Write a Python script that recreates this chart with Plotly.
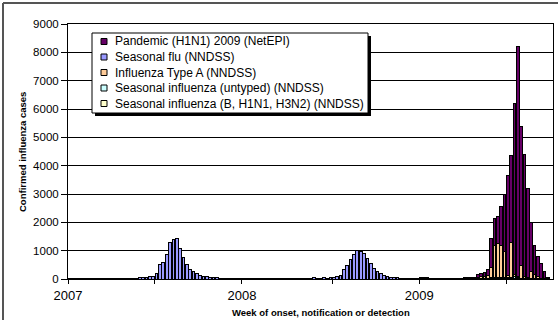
import plotly.graph_objects as go

# ---------------- data (weekly counts) ----------------
# week index 0..144 : 2007 (52 weeks), 2008 (53 weeks), 2009 weeks 1-40
seasonal_flu_2007 = [8, 10, 6, 9, 7, 10, 8, 12, 9, 10,
                     11, 9, 12, 14, 10, 13, 15, 12, 18, 20,
                     30, 40, 50, 60, 80, 100, 200, 520, 590, 850,
                     1280, 1380, 1420, 1080, 770, 500, 340, 260, 200, 140,
                     100, 80, 70, 60, 40, 30, 20, 15, 10, 8, 6, 5]
seasonal_flu_2008 = [5, 6, 4, 8, 6, 5, 7, 9, 10,
                     25, 20, 30, 15, 28, 35, 20, 30, 25, 35,
                     30, 25, 40, 30, 35, 40, 30, 45,
                     60, 90, 140, 320, 490, 690, 850, 990, 980, 910, 730,
                     550, 380, 260, 200, 140, 100, 70, 50, 40, 30, 30, 20, 15, 12, 10]
seasonal_flu_2009 = [0] * 40

pandemic_2009 = [0, 0, 0, 0, 0, 0, 0, 0, 0, 0, 0, 0, 0, 0, 0,
                 0, 5, 80, 100, 115, 185, 1030, 935, 940, 1350, 2035, 3525, 3070,
                 6050, 8100, 4920, 4320, 3146, 1740, 1042, 695, 497, 249, 60, 0]
type_a_2009 = [30, 35, 25, 20, 10, 8, 12, 10, 8, 10, 15, 12, 20, 25, 30,
               40, 40, 50, 60, 80, 100, 350, 1130, 1200, 1150, 920, 50, 1230,
               60, 60, 450, 60, 40, 250, 150, 80, 30, 10, 5, 0]
untyped_2009 = [5, 8, 6, 5, 4, 5, 3, 4, 5, 4, 5, 6, 5, 8, 10,
                5, 8, 10, 12, 15, 20, 30, 30, 35, 30, 25, 40, 30,
                60, 20, 15, 10, 8, 6, 5, 3, 2, 1, 0, 0]
typed_2009 = [4, 6, 5, 3, 4, 3, 2, 3, 4, 3, 4, 5, 4, 5, 6,
              5, 7, 10, 8, 10, 15, 20, 25, 25, 20, 20, 25, 20,
              30, 20, 15, 10, 6, 4, 3, 2, 1, 0, 0, 0]

zeros_2007 = [0] * 52
zeros_2008 = [0] * 53

series_names = ["Pandemic (H1N1) 2009 (NetEPI)",
                "Seasonal flu (NNDSS)",
                "Influenza Type A (NNDSS)",
                "Seasonal influenza (untyped) (NNDSS)",
                "Seasonal influenza (B, H1N1, H3N2) (NNDSS)"]
series_colors = ["#660066", "#9999FF", "#FFCC99", "#CCFFFF", "#FFFFCC"]

pandemic = zeros_2007 + zeros_2008 + pandemic_2009
seasonal_flu = seasonal_flu_2007 + seasonal_flu_2008 + seasonal_flu_2009
type_a = zeros_2007 + zeros_2008 + type_a_2009
untyped = zeros_2007 + zeros_2008 + untyped_2009
typed = zeros_2007 + zeros_2008 + typed_2009

weeks = [i + 0.5 for i in range(len(pandemic))]

tick_positions = [0, 26, 52, 79, 105, 131]
tick_labels = ["2007", "", "2008", "", "2009", ""]

# ---------------- figure ----------------
FONT = "Arial, 'Liberation Sans', sans-serif"
fig = go.Figure()
series_values = [pandemic, seasonal_flu, type_a, untyped, typed]
# add bottom-of-stack first
for k in [4, 3, 2, 1, 0]:
    fig.add_trace(go.Bar(
        x=weeks, y=series_values[k], name=series_names[k],
        marker=dict(color=series_colors[k], line=dict(color="black", width=1)),
        width=0.8, showlegend=False,
    ))

L, R, T, B = 68, 553, 24, 279
W, H = R - L, B - T

def px(x):
    return (x - L) / W

def py(y):
    return (B - y) / H

# legend box (drawn as shapes + text, Excel style with drop shadow)
LX0, LX1, LY0, LY1 = 92, 368, 33, 113
row_y = [41.5, 57, 72.5, 88, 103.5]
shapes = [
    dict(type="rect", xref="paper", yref="paper",
         x0=px(LX0 + 3), x1=px(LX1 + 3), y0=py(LY1 + 3), y1=py(LY0 + 3),
         fillcolor="black", line=dict(width=0), layer="above"),
    dict(type="rect", xref="paper", yref="paper",
         x0=px(LX0), x1=px(LX1), y0=py(LY1), y1=py(LY0),
         fillcolor="white", line=dict(color="black", width=1), layer="above"),
]
annotations = []
for k, name in enumerate(series_names):
    yc = row_y[k]
    shapes.append(dict(type="rect", xref="paper", yref="paper",
                       x0=px(101), x1=px(107), y0=py(yc + 3), y1=py(yc - 3),
                       fillcolor=series_colors[k], line=dict(color="black", width=1),
                       layer="above"))
    annotations.append(dict(text=name, xref="paper", yref="paper",
                            x=px(113), y=py(yc), xanchor="left", yanchor="middle",
                            showarrow=False,
                            font=dict(size=12, family=FONT, color="black")))

# outer chart frame (left and top edges)
shapes += [
    dict(type="line", xref="paper", yref="paper",
         x0=px(3), x1=px(3), y0=py(3), y1=py(320),
         line=dict(color="#555555", width=2)),
    dict(type="line", xref="paper", yref="paper",
         x0=px(3), x1=px(560), y0=py(3), y1=py(3),
         line=dict(color="#555555", width=2)),
]

annotations += [
    dict(text="<b>Confirmed influenza cases</b>", xref="paper", yref="paper",
         x=px(22), y=py(152), textangle=-90, showarrow=False,
         xanchor="center", yanchor="middle", font=dict(size=9.5, family=FONT)),
    dict(text="<b>Week of onset, notification or detection</b>", xref="paper", yref="paper",
         x=px(321), y=py(312), showarrow=False,
         xanchor="center", yanchor="middle", font=dict(size=9.5, family=FONT)),
]

fig.update_layout(
    width=558, height=320,
    margin=dict(l=L, r=558 - R, t=T, b=320 - B),
    paper_bgcolor="white", plot_bgcolor="white",
    barmode="stack", bargap=0.2,
    font=dict(family=FONT, color="black"),
    showlegend=False,
    xaxis=dict(
        range=[0, 145], tickmode="array", tickvals=tick_positions, ticktext=tick_labels,
        ticks="outside", ticklen=4, tickcolor="black", tickwidth=1,
        showline=True, linecolor="black", linewidth=1, mirror=True,
        showgrid=False, zeroline=False,
        tickfont=dict(size=13, family=FONT, color="black"),
    ),
    yaxis=dict(
        range=[0, 9000], dtick=1000, tick0=0,
        ticks="outside", ticklen=6, tickcolor="black", tickwidth=1,
        showline=True, linecolor="black", linewidth=1, mirror=True,
        showgrid=True, gridcolor="black", gridwidth=1, zeroline=False,
        tickfont=dict(size=11.5, family=FONT, color="black"),
    ),
    annotations=annotations,
    shapes=shapes,
)

fig.write_html("out.html", config={"displayModeBar": False},
               post_script="document.body.style.margin='0';document.body.style.padding='0';")
